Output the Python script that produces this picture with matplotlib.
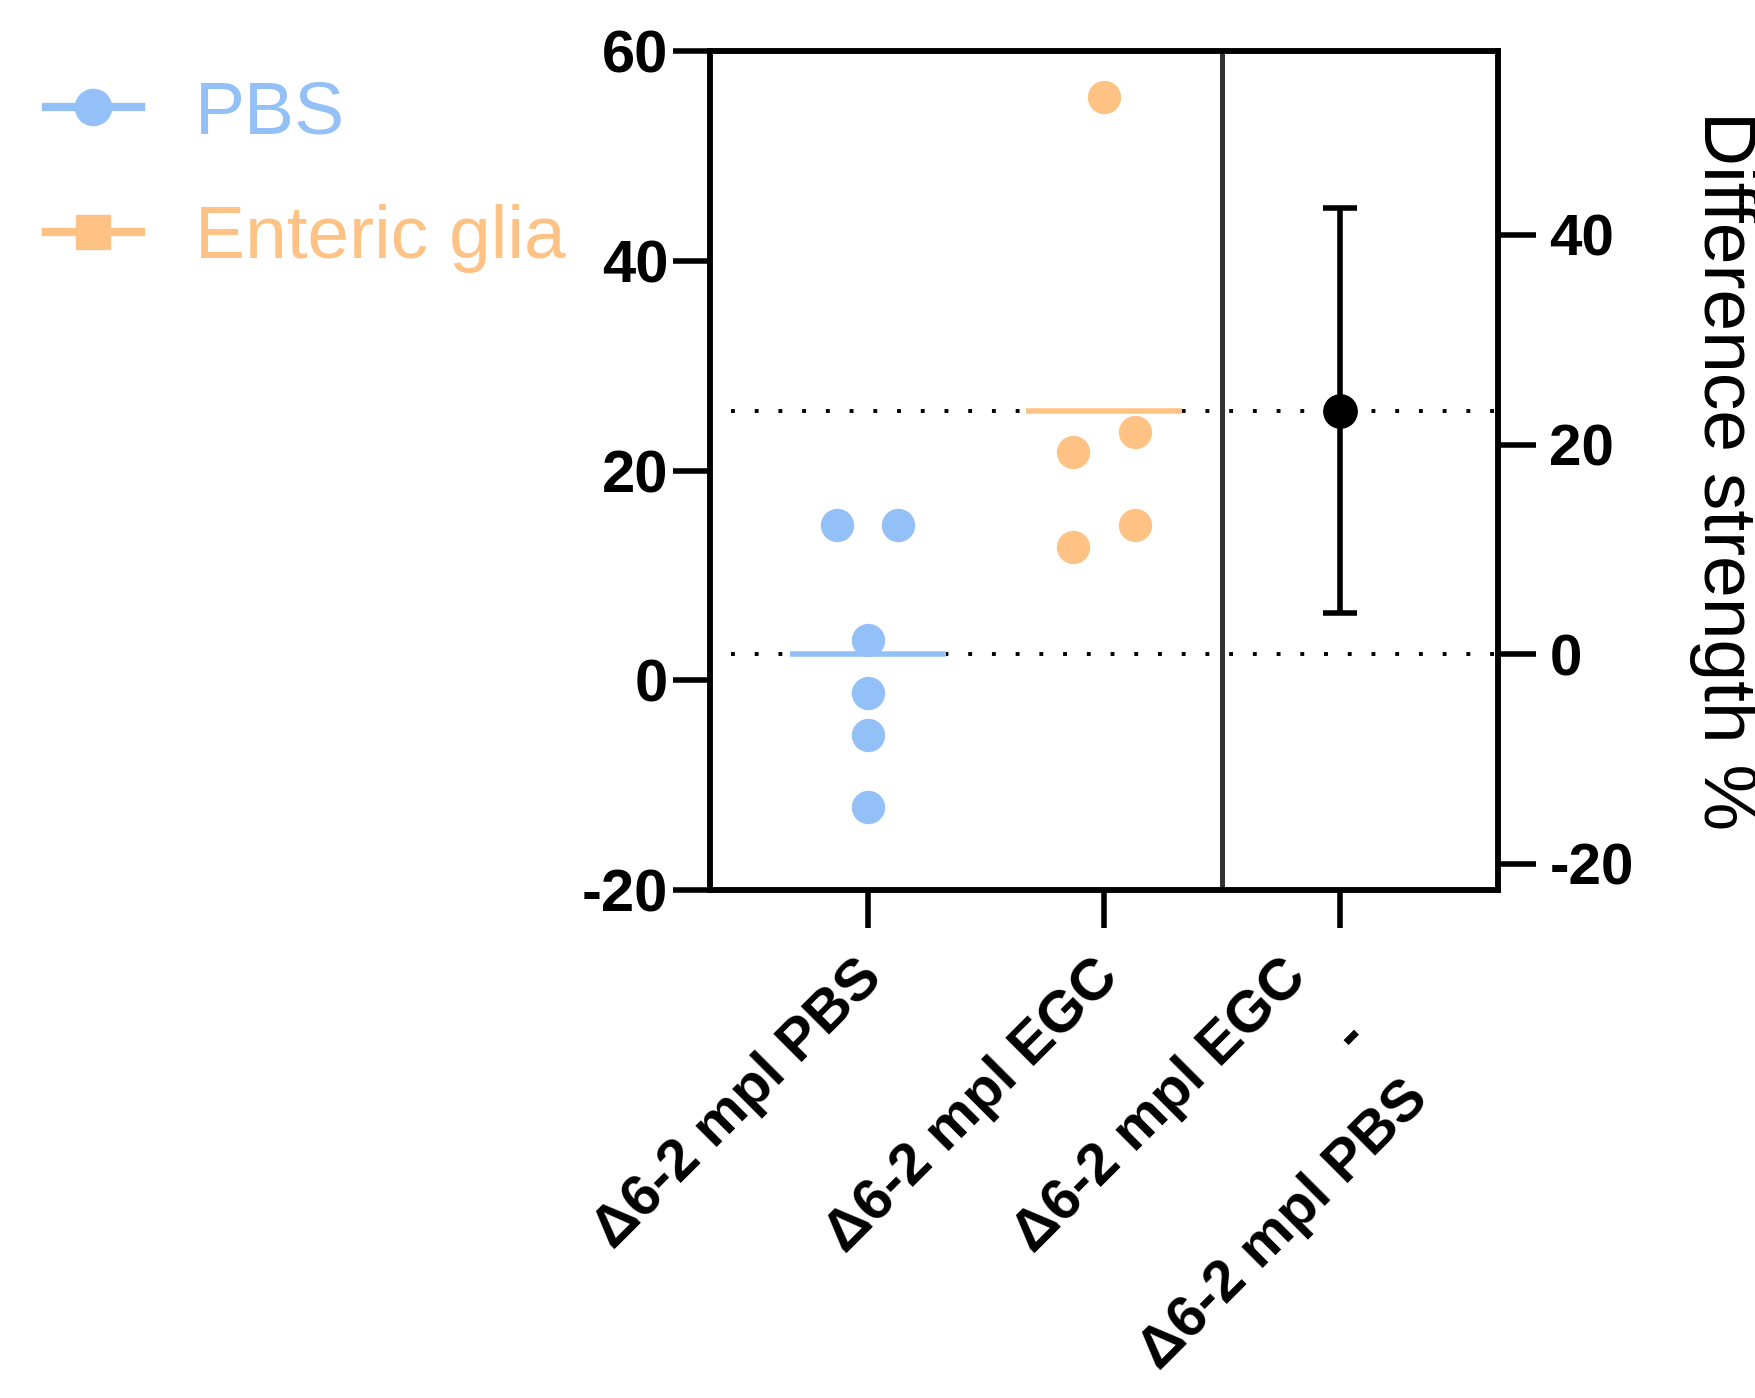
import numpy as np
import matplotlib
matplotlib.use("Agg")
import matplotlib.pyplot as plt
import matplotlib.transforms as mtransforms
from matplotlib.lines import Line2D

plt.rcParams['font.family'] = ['Liberation Sans', 'DejaVu Sans']

# data
groups = ['PBS', 'Enteric glia']
pbs = [14.8, 14.8, 3.85, -1.2, -5.2, -12.1]
egc = [55.7, 23.7, 21.8, 14.8, 12.7]
diff_ci = [3.9, 42.6]
tick_labels = ['Δ6-2 mpl PBS', 'Δ6-2 mpl EGC', 'Δ6-2 mpl EGC\n-\nΔ6-2 mpl PBS']
left_ticks = [-20, 0, 20, 40, 60]
right_ticks = [-20, 0, 20, 40]
right_label = 'Difference strength %'

blue = '#94C0F8'
orange = '#FFC285'


def spread(values, center, step=0.13, gap=3.6):
    # simple column scatter: points closer than `gap` get pushed sideways
    vals = np.sort(np.asarray(values, dtype=float))
    clusters = [[vals[0]]]
    for v in vals[1:]:
        if v - clusters[-1][-1] < gap:
            clusters[-1].append(v)
        else:
            clusters.append([v])
    xs = []
    for c in clusters:
        n = len(c)
        xs.extend(center + (np.arange(n) - (n - 1) / 2) * 2 * step)
    return np.array(xs), vals


pbs_mean = np.mean(pbs)
egc_mean = np.mean(egc)
diff = egc_mean - pbs_mean

fig = plt.figure(figsize=(17.56, 13.98), dpi=100)
ax = fig.add_axes([0.4043, 0.3634, 0.4488, 0.5998])
ax2 = ax.twinx()

ax.set_xlim(-0.668, 2.668)
ax.set_ylim(-20, 60)
ax2.set_ylim(-20 - pbs_mean, 60 - pbs_mean)

# dotted reference lines at both group means
for m in (pbs_mean, egc_mean):
    ax.plot([-0.58, 2.668], [m, m], color='black', lw=2.8,
            linestyle=(0, (1, 5.1)), zorder=1)

# separator between groups and difference panel
ax.axvline(1.5, color='#333333', lw=3.6, zorder=2)

msize = 24
for i, (vals, col, m) in enumerate([(pbs, blue, pbs_mean), (egc, orange, egc_mean)]):
    xs, ys = spread(vals, i)
    ax.plot(xs, ys, 'o', color=col, ms=msize, mec='none', zorder=3)
    ax.plot([i - 0.33, i + 0.33], [m, m], color=col, lw=4, zorder=3,
            solid_capstyle='butt')

ax2.errorbar([2], [diff], yerr=[[diff - diff_ci[0]], [diff_ci[1] - diff]],
             fmt='o', color='black', ms=msize, elinewidth=4, capsize=12,
             capthick=4, zorder=4)

ax.tick_params(axis='x', length=27, width=4, pad=16)
ax.tick_params(axis='y', length=27, width=4, pad=3)
ax2.tick_params(axis='y', length=27, width=4, pad=10)

ax.set_xticks([0, 1, 2])
ax.set_xticklabels(tick_labels, rotation=45, ha='right', va='top',
                   rotation_mode='anchor', multialignment='right',
                   linespacing=1.75, fontweight='bold', fontsize=42)
ax.set_yticks(left_ticks)
ax.set_yticklabels([str(t) for t in left_ticks], fontweight='bold', fontsize=43)
ax2.set_yticks(right_ticks)
ax2.set_yticklabels([str(t) for t in right_ticks], fontweight='bold', fontsize=42)

# nudge the rotated labels; the stacked third one sits further left
for i, lbl in enumerate(ax.get_xticklabels()):
    dx = -0.13 - (0.48 if i == 2 else 0)
    lbl.set_transform(lbl.get_transform()
                      + mtransforms.ScaledTranslation(dx, 0, fig.dpi_scale_trans))

for a in (ax, ax2):
    for s in a.spines.values():
        s.set_linewidth(4)

ax2.set_ylabel(right_label, rotation=270, fontsize=54, ha='center', va='bottom')
ax2.yaxis.set_label_coords(1.242, 0.5)

handles = [Line2D([], [], color=blue, marker='o', lw=6, ms=26),
           Line2D([], [], color=orange, marker='s', lw=6, ms=25)]
fig.legend(handles, groups, loc='upper left', bbox_to_anchor=(0.026, 0.943),
           frameon=False, fontsize=54, handlelength=1.27, handletextpad=0.72,
           labelspacing=0.74, borderpad=0, borderaxespad=0, labelcolor='linecolor')

fig.savefig('out.png', dpi=100)
